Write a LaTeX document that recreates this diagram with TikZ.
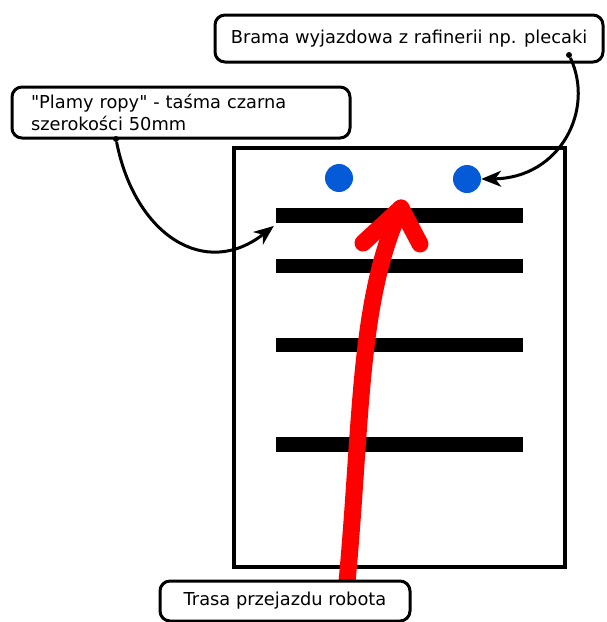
\documentclass[tikz,border=0pt]{standalone}
\usepackage{fontspec}
\setmainfont{DejaVu Sans}[Ligatures=TeXOff]
\usetikzlibrary{arrows.meta,positioning,calc}
\definecolor{dotblue}{RGB}{5,90,215}

\begin{document}
\begin{tikzpicture}[x=1pt, y=-1pt,
    callout/.style={draw=black, fill=white, rounded corners=10pt, line width=3pt, inner sep=0pt, font=\fontsize{17.8}{22}\selectfont},
    stripe/.style={fill=black, minimum width=247pt, minimum height=14.5pt, inner sep=0pt},
    gatedot/.style={circle, fill=dotblue, minimum size=28pt, inner sep=0pt},
    link/.style={-{Stealth[length=20pt, width=16pt, inset=6pt]}, line width=3pt},
    pin/.style={circle, fill=black, inner sep=0pt, minimum size=6pt}
]
\useasboundingbox (0,0) rectangle (606,622);

% field
\node[draw=black, line width=4pt, minimum width=331pt, minimum height=419pt, inner sep=0pt] (field) at (399.5,357.5) {};

% exit gate and oil stripes
\node[gatedot] (gateL) at (339,178) {};
\node[gatedot] (gateR) at (467,179) {};
\foreach \y [count=\i] in {215.5,266,345,444.5}
  \node[stripe] (bar\i) at (399.5,\y) {};

% route of the robot
\coordinate (routeStart) at (347,582);
\coordinate (routeTip) at (401,208);
\draw[red, line width=17pt, line cap=round] (routeStart) .. controls (362,420) and (358,300) .. (routeTip);
\draw[red, line width=17pt, line cap=round, line join=round] (363,243) -- (routeTip) -- (420,244);

% callouts
\node[callout, minimum width=388pt, minimum height=47pt] (gate) at (409,38.5) {Brama wyjazdowa z rafinerii np. plecaki};
\node[callout, minimum width=338pt, minimum height=51pt, text width=300pt, inner xsep=19pt, align=left] (oil) at (181,112.5) {"Plamy ropy" - taśma czarna\\szerokości 50mm};
\node[callout, minimum width=250pt, minimum height=40pt] (route) at (285,601) {Trasa przejazdu robota};

% pointers
\node[pin] (gatePin) at (569,55) {};
\node[pin] (oilPin) at (116,139) {};
\draw[link] (gatePin) .. controls (595,110) and (560,178) .. (gateR.east);
\draw[link] (oilPin) .. controls (135,235) and (205,280) .. ($(bar1.south west)+(-2,3)$);

\end{tikzpicture}
\end{document}
